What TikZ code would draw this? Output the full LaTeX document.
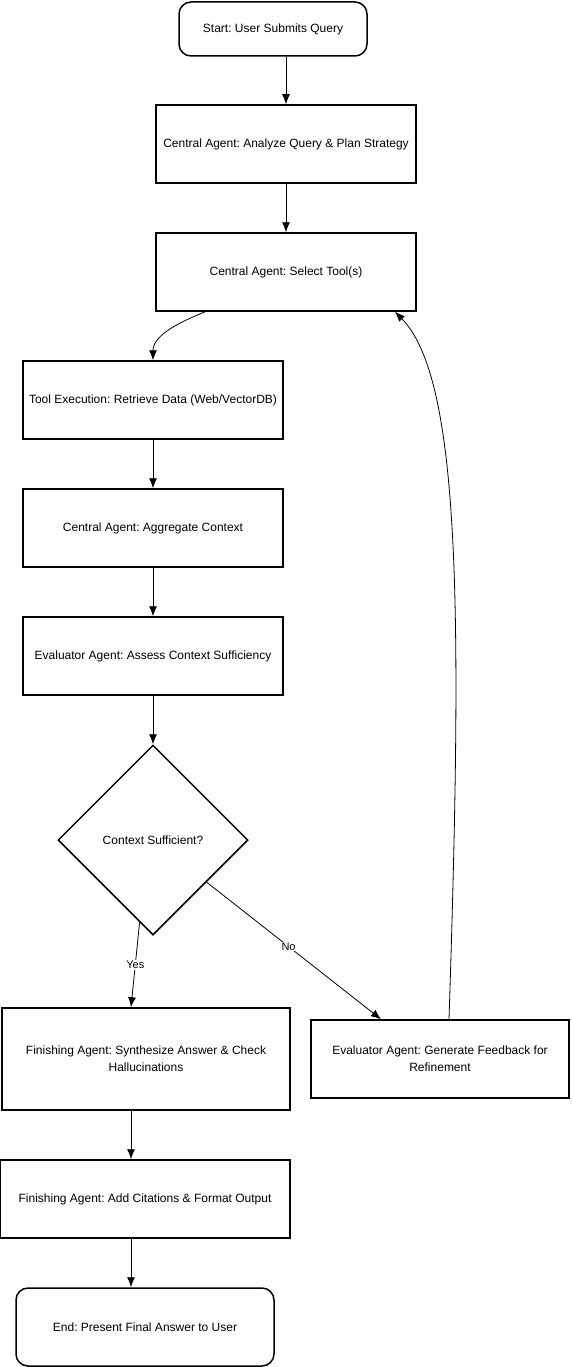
\documentclass[tikz,border=0pt]{standalone}
\usepackage{fontspec}
\setmainfont{Liberation Sans}
\usetikzlibrary{arrows.meta}
\usetikzlibrary{shapes.geometric}
\usetikzlibrary{calc}
\tikzset{>=latex}
\tikzset{
	stepbox/.style={draw,line width=1.5,minimum width=260,minimum height=78,align=center,inner sep=2,font=\fontsize{12}{17}\selectfont},
	endbox/.style={stepbox,rounded corners=12},
	choice/.style={draw,line width=1.5,shape=diamond,minimum width=190,minimum height=190,inner sep=0,font=\fontsize{12}{14}\selectfont},
	myarr/.style={-{Latex[length=10,width=8]},line width=0.8},
	answer/.style={fill=white,inner sep=1,font=\fontsize{11}{12}\selectfont}
}

\begin{document}
\frenchspacing
\begin{tikzpicture}[x=1pt,y=-1pt]
	\useasboundingbox (0,0) rectangle (572,1367);
	
	% NODES
	\node[endbox,minimum width=188,minimum height=54] (start) at (273,29) {Start: User Submits Query};
	\node[stepbox] (plan) at (286,144) {Central Agent: Analyze Query \& Plan Strategy};
	\node[stepbox] (select) at (286,272) {Central Agent: Select Tool(s)};
	\node[stepbox] (tool) at (153,400) {Tool Execution: Retrieve Data (Web/VectorDB)};
	\node[stepbox] (aggr) at (153,528) {Central Agent: Aggregate Context};
	\node[stepbox] (assess) at (153,656) {Evaluator Agent: Assess Context Sufficiency};
	\node[choice] (check) at (153,840) {Context Sufficient?};
	\node[stepbox,minimum width=288,minimum height=102] (synth) at (146,1059) {Finishing Agent: Synthesize Answer \& Check\\Hallucinations};
	\node[stepbox,minimum width=258] (feedback) at (440,1059) {Evaluator Agent: Generate Feedback for\\Refinement};
	\node[stepbox,minimum width=290] (cite) at (145,1199) {Finishing Agent: Add Citations \& Format Output};
	\node[endbox,minimum width=258] (finish) at (145,1327) {End: Present Final Answer to User};
	
	% ARROWS
	\draw[myarr] (plan.north |- start.south) -- (plan.north);
	\draw[myarr] (plan.south) -- (select.north);
	\draw[myarr] ([xshift=50]select.south west) .. controls (180,322) and (153,335) .. (tool.north);
	\draw[myarr] (tool.south) -- (aggr.north);
	\draw[myarr] (aggr.south) -- (assess.north);
	\draw[myarr] (assess.south) -- (check.north);
	\draw[myarr] ($(check.south)!0.14!(check.west)$) -- node[answer,pos=0.5] {Yes} ([xshift=-15]synth.north);
	\draw[myarr] ($(check.south)!0.56!(check.east)$) -- node[answer,pos=0.47] {No} ([xshift=-59]feedback.north);
	\draw[myarr] ([xshift=9]feedback.north) .. controls (462,620) and (462,380) .. ([xshift=109]select.south);
	\draw[myarr] ([xshift=-15]synth.south) -- ([xshift=-14]cite.north);
	\draw[myarr] ([xshift=-14]cite.south) -- ([xshift=-14]finish.north);
	
\end{tikzpicture}
\end{document}
